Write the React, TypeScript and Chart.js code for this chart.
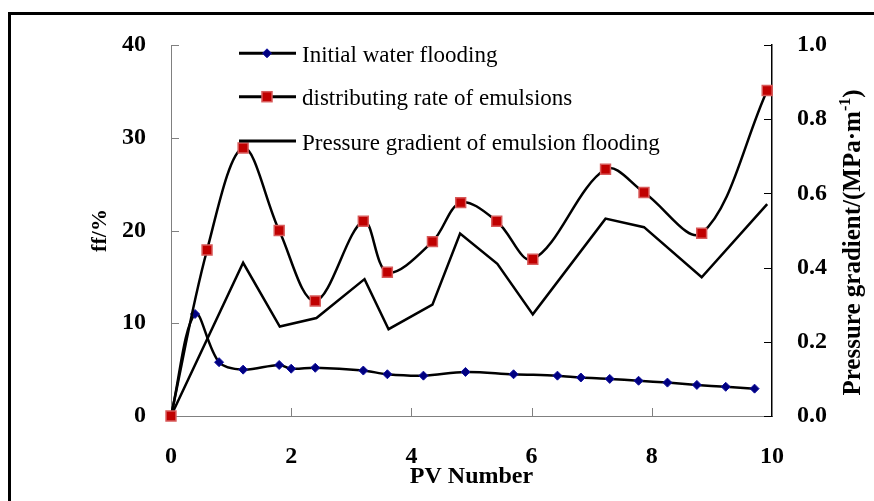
import React, { useEffect, useRef } from 'react';
import { Chart, registerables } from 'chart.js';

Chart.register(...registerables);

// Initial water flooding (left axis, ff/%)
const waterX = [0, 0.4, 0.8, 1.2, 1.8, 2.0, 2.4, 3.2, 3.6, 4.2, 4.9, 5.7, 6.43, 6.82, 7.3, 7.78, 8.26, 8.75, 9.23, 9.71];
const waterY = [0, 11.0, 5.8, 5.0, 5.5, 5.1, 5.2, 4.9, 4.5, 4.35, 4.75, 4.5, 4.35, 4.15, 4.0, 3.8, 3.6, 3.35, 3.15, 2.95];

// distributing rate of emulsions (left axis, ff/%)
const emulsionX = [0, 0.6, 1.2, 1.8, 2.4, 3.2, 3.6, 4.35, 4.82, 5.42, 6.02, 7.23, 7.87, 8.83, 9.92];
const emulsionY = [0, 17.9, 28.9, 20.0, 12.4, 21.0, 15.5, 18.8, 23.0, 21.0, 16.9, 26.6, 24.1, 19.7, 35.1];

// Pressure gradient of emulsion flooding (right axis, MPa·m-1)
const pressureX = [0, 1.2, 1.81, 2.42, 3.22, 3.62, 4.35, 4.81, 5.43, 6.02, 7.23, 7.87, 8.83, 9.92];
const pressureY = [0, 0.413, 0.241, 0.264, 0.369, 0.234, 0.3, 0.492, 0.41, 0.274, 0.532, 0.509, 0.374, 0.571];

const legendLabels = ['Initial water flooding', 'distributing rate of emulsions', 'Pressure gradient of emulsion flooding'];
const xTitle = 'PV Number';
const leftTitle = 'ff/%';
const rightTitleMain = 'Pressure gradient/(MPa·m';
const rightTitleSup = '-1';
const rightTitleEnd = ')';

const SERIF = "'Liberation Serif', 'Times New Roman', Times, serif";

const toPoints = (xs: number[], ys: number[]) => xs.map((x, i) => ({ x, y: ys[i] }));

const framePlugin = {
  id: 'frame',
  beforeDraw(chart: any) {
    const { ctx } = chart;
    ctx.save();
    ctx.fillStyle = '#ffffff';
    ctx.fillRect(0, 0, chart.width, chart.height);
    ctx.strokeStyle = '#000000';
    ctx.lineWidth = 3;
    ctx.beginPath();
    ctx.moveTo(9.5, chart.height + 5);
    ctx.lineTo(9.5, 13.5);
    ctx.lineTo(chart.width + 5, 13.5);
    ctx.stroke();
    ctx.restore();
  },
};

const innerTicksPlugin = {
  id: 'innerTicks',
  beforeDatasetsDraw(chart: any) {
    const { ctx, chartArea } = chart;
    const { left, right, bottom } = chartArea;
    const { x, y, y1 } = chart.scales;
    const len = 8;
    ctx.save();
    ctx.lineWidth = 1;
    ctx.strokeStyle = '#808080';
    y.ticks.forEach((t: any) => {
      const p = Math.round(y.getPixelForValue(t.value)) + 0.5;
      ctx.beginPath();
      ctx.moveTo(left, p);
      ctx.lineTo(left + len, p);
      ctx.stroke();
    });
    x.ticks.forEach((t: any) => {
      const p = Math.round(x.getPixelForValue(t.value)) + 0.5;
      ctx.beginPath();
      ctx.moveTo(p, bottom);
      ctx.lineTo(p, bottom - len);
      ctx.stroke();
    });
    ctx.strokeStyle = '#000000';
    y1.ticks.forEach((t: any) => {
      const p = Math.round(y1.getPixelForValue(t.value)) + 0.5;
      ctx.beginPath();
      ctx.moveTo(right, p);
      ctx.lineTo(right - len, p);
      ctx.stroke();
    });
    ctx.restore();
  },
};

const legendPlugin = {
  id: 'customLegend',
  afterDraw(chart: any) {
    const { ctx } = chart;
    const rows = [53.3, 96.7, 141];
    const x0 = 239;
    const x1 = 296;
    const mx = 267;
    ctx.save();
    rows.forEach((ry, i) => {
      ctx.strokeStyle = '#000000';
      ctx.lineWidth = 3;
      ctx.beginPath();
      ctx.moveTo(x0, ry);
      ctx.lineTo(x1, ry);
      ctx.stroke();
      if (i === 0) {
        const r = 4.5;
        ctx.fillStyle = '#000080';
        ctx.strokeStyle = '#1010a0';
        ctx.lineWidth = 1;
        ctx.beginPath();
        ctx.moveTo(mx, ry - r);
        ctx.lineTo(mx + r, ry);
        ctx.lineTo(mx, ry + r);
        ctx.lineTo(mx - r, ry);
        ctx.closePath();
        ctx.fill();
        ctx.stroke();
      } else if (i === 1) {
        const s = 10;
        ctx.fillStyle = '#c00000';
        ctx.strokeStyle = '#d85a5a';
        ctx.lineWidth = 1.5;
        ctx.fillRect(mx - s / 2, ry - s / 2, s, s);
        ctx.strokeRect(mx - s / 2, ry - s / 2, s, s);
      }
      ctx.fillStyle = '#000000';
      ctx.font = `23px ${SERIF}`;
      ctx.textAlign = 'left';
      ctx.textBaseline = 'alphabetic';
      ctx.fillText(legendLabels[i], 302, ry + 8.5);
    });
    ctx.restore();
  },
};

const rightTitlePlugin = {
  id: 'rightTitle',
  afterDraw(chart: any) {
    const { ctx } = chart;
    ctx.save();
    const mainFont = `bold 25px ${SERIF}`;
    const supFont = `bold 16px ${SERIF}`;
    ctx.font = mainFont;
    const w1 = ctx.measureText(rightTitleMain).width;
    const w3 = ctx.measureText(rightTitleEnd).width;
    ctx.font = supFont;
    const w2 = ctx.measureText(rightTitleSup).width;
    const total = w1 + w2 + w3;
    ctx.translate(860, 242.5);
    ctx.rotate(-Math.PI / 2);
    ctx.fillStyle = '#000000';
    ctx.textAlign = 'left';
    ctx.textBaseline = 'alphabetic';
    const sx = -total / 2;
    ctx.font = mainFont;
    ctx.fillText(rightTitleMain, sx, 0);
    ctx.font = supFont;
    ctx.fillText(rightTitleSup, sx + w1, -10);
    ctx.font = mainFont;
    ctx.fillText(rightTitleEnd, sx + w1 + w2, 0);
    ctx.restore();
  },
};

export default function App() {
  const canvasRef = useRef<HTMLCanvasElement | null>(null);

  useEffect(() => {
    const canvas = canvasRef.current;
    if (!canvas) return;
    const tickFont = { family: SERIF, size: 24, weight: 'bold' as const };
    const chart = new Chart(canvas, {
      type: 'line',
      data: {
        datasets: [
          {
            label: legendLabels[0],
            data: toPoints(waterX, waterY),
            yAxisID: 'y',
            borderColor: '#000000',
            borderWidth: 2.5,
            tension: 0.35,
            pointStyle: 'rectRot',
            pointRadius: 4.5,
            pointBackgroundColor: '#000080',
            pointBorderColor: '#1010a0',
            pointBorderWidth: 1,
            fill: false,
            clip: false as any,
            order: 1,
          },
          {
            label: legendLabels[1],
            data: toPoints(emulsionX, emulsionY),
            yAxisID: 'y',
            borderColor: '#000000',
            borderWidth: 2.5,
            tension: 0.35,
            pointStyle: 'rect',
            pointRadius: 7,
            pointBackgroundColor: '#c00000',
            pointBorderColor: '#d85a5a',
            pointBorderWidth: 1.5,
            fill: false,
            clip: false as any,
            order: 0,
          },
          {
            label: legendLabels[2],
            data: toPoints(pressureX, pressureY),
            yAxisID: 'y1',
            borderColor: '#000000',
            borderWidth: 2.5,
            tension: 0,
            pointRadius: 0,
            fill: false,
            clip: false as any,
            order: 2,
          },
        ],
      },
      options: {
        animation: false,
        responsive: false,
        devicePixelRatio: 1,
        layout: { padding: { top: 45, left: 0, right: 0, bottom: 0 } },
        plugins: {
          legend: { display: false },
          tooltip: { enabled: false },
        },
        scales: {
          x: {
            type: 'linear',
            min: 0,
            max: 10,
            grid: { display: false, drawTicks: false },
            border: { display: true, color: '#808080', width: 1 },
            ticks: {
              stepSize: 2,
              autoSkip: false,
              maxRotation: 0,
              padding: 26,
              color: '#000000',
              font: tickFont,
            },
            title: {
              display: true,
              text: xTitle,
              color: '#000000',
              font: { family: SERIF, size: 24, weight: 'bold' },
              padding: { top: 0, bottom: 10 },
            },
            afterFit: (s: any) => {
              s.height = 85;
            },
          },
          y: {
            type: 'linear',
            position: 'left',
            min: 0,
            max: 40,
            grid: { display: false, drawTicks: false },
            border: { display: true, color: '#808080', width: 1 },
            ticks: {
              stepSize: 10,
              padding: 25,
              color: '#000000',
              font: tickFont,
            },
            title: {
              display: true,
              text: leftTitle,
              color: '#000000',
              font: { family: SERIF, size: 22, weight: 'bold' },
              padding: { top: 87, bottom: 0 },
            },
            afterFit: (s: any) => {
              s.width = 171;
            },
          },
          y1: {
            type: 'linear',
            position: 'right',
            min: 0,
            max: 1,
            grid: { display: false, drawTicks: false },
            border: { display: true, color: '#000000', width: 1.5 },
            ticks: {
              stepSize: 0.2,
              padding: 25,
              color: '#000000',
              font: tickFont,
              callback: (v: any) => Number(v).toFixed(1),
            },
            afterFit: (s: any) => {
              s.width = 102;
            },
          },
        },
      },
      plugins: [framePlugin, innerTicksPlugin, legendPlugin, rightTitlePlugin],
    });
    return () => chart.destroy();
  }, []);

  return (
    <div style={{ position: 'fixed', left: 0, top: 0, width: 874, height: 501, background: '#ffffff' }}>
      <canvas ref={canvasRef} width={874} height={501} style={{ display: 'block', width: 874, height: 501 }} />
    </div>
  );
}
